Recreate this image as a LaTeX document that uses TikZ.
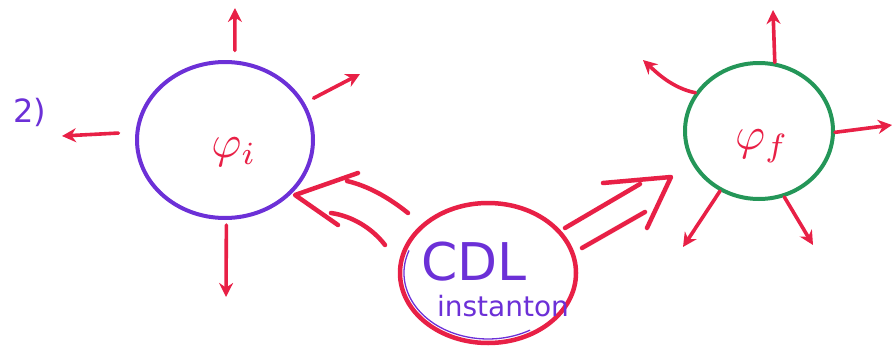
\documentclass[tikz,border=0pt]{standalone}
\usepackage{fontspec}
\newfontfamily\labelfont{DejaVu Sans}
\usetikzlibrary{arrows.meta,shapes.geometric}
\definecolor{inkred}{RGB}{232,32,70}
\definecolor{inkpurple}{RGB}{108,48,215}
\definecolor{inkgreen}{RGB}{36,150,88}

\begin{document}
\begin{tikzpicture}[x=1pt,y=-1pt,
  blob/.style={ellipse, draw, line width=4pt, inner sep=0pt},
  ray/.style={draw=inkred, line width=3.6pt, line cap=round, -{Stealth[length=14pt,width=14pt]}},
  stroke/.style={draw=inkred, line width=4.5pt, line cap=round, line join=round},
  phase/.style={text=inkred, scale=4.6},
  words/.style={text=inkpurple, inner sep=0pt},
]
\useasboundingbox (0,0) rectangle (894,348);

% the three regions
\node[blob, draw=inkpurple, minimum width=176pt, minimum height=156pt] (phii) at (225,140) {};
\node[blob, draw=inkgreen, minimum width=148pt, minimum height=136pt] (phif) at (759,131) {};
\node[blob, draw=inkred, line width=4.5pt, minimum width=176pt, minimum height=140pt] (cdl) at (488,273) {};
\draw[inkpurple, line width=1.3pt] (488,273) ++(200:84 and 66) arc[start angle=200, end angle=60, x radius=84, y radius=66];

% labels
\node[phase] (lphii) at (234,152) {$\varphi_i$};
\node[phase] (lphif) at (762,146) {$\varphi_f$};
\node[words, font=\labelfont\fontsize{52}{52}\selectfont] (lcdl) at (474,262) {CDL};
\node[words, font=\labelfont\fontsize{28}{28}\selectfont] (linst) at (503,306) {instanton};
\node[words, font=\labelfont\fontsize{32}{32}\selectfont] (ltwo) at (30,112) {2)};

% rays leaving the initial region
\coordinate (a1) at (235,8);
\coordinate (a2) at (360,74);
\coordinate (a3) at (226,297);
\coordinate (a4) at (62,136);
\draw[ray, shorten <=10pt] (phii.83) -- (a1);
\draw[ray, shorten <=10pt] (phii.25) -- (a2);
\draw[ray, shorten <=5pt] (phii.-89) -- (a3);
\draw[ray, shorten <=17pt] (phii.175) -- (a4);

% rays leaving the final region
\coordinate (b1) at (773,10);
\coordinate (b2) at (643,60);
\coordinate (b3) at (892,125);
\coordinate (b4) at (683,247);
\coordinate (b5) at (813,245);
\draw[ray] (phif.77) -- (b1);
\draw[ray] (phif.149) .. controls (672,88) and (656,72) .. (b2);
\draw[ray] (phif.-1) -- (b3);
\draw[ray] (phif.237) -- (b4);
\draw[ray] (phif.291) -- (b5);

% double arrow from the instanton back to the initial region
\coordinate (lu0) at (408,213);
\coordinate (lu1) at (347,181);
\coordinate (ld0) at (385,245);
\coordinate (ld1) at (331,213);
\coordinate (ltip) at (295,195);
\coordinate (lau) at (358,173);
\coordinate (lad) at (338,225);
\draw[stroke] (lu0) .. controls (388,197) and (368,186) .. (lu1);
\draw[stroke] (ld0) .. controls (372,228) and (352,216) .. (ld1);
\draw[stroke] (lau) -- (ltip) -- (lad);

% double arrow from the instanton on to the final region
\coordinate (ru0) at (565,228);
\coordinate (ru1) at (640,184);
\coordinate (rd0) at (582,248);
\coordinate (rd1) at (645,212);
\coordinate (rtip) at (671,177);
\coordinate (rau) at (603,183);
\coordinate (rad) at (647,228);
\draw[stroke] (ru0) -- (ru1);
\draw[stroke] (rd0) -- (rd1);
\draw[stroke] (rau) -- (rtip) -- (rad);
\end{tikzpicture}
\end{document}
